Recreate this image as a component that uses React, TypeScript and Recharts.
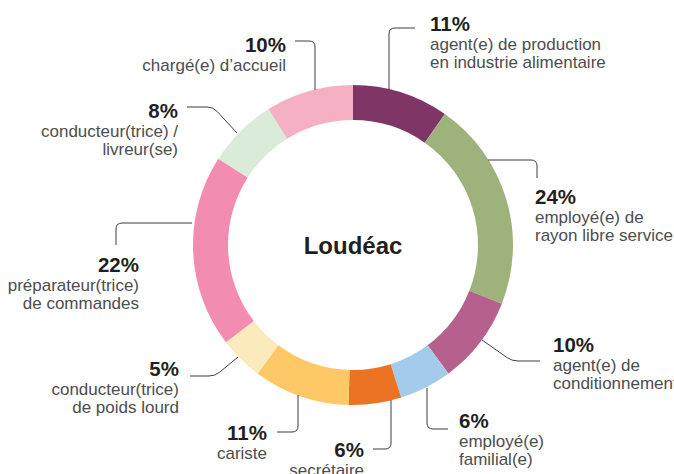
import React from "react";
import { PieChart, Pie, Cell } from "recharts";

// ---- data ----
const categories: string[][] = [
  ["agent(e) de production", "en industrie alimentaire"],
  ["employé(e) de", "rayon libre service"],
  ["agent(e) de", "conditionnement"],
  ["employé(e)", "familial(e)"],
  ["secrétaire"],
  ["cariste"],
  ["conducteur(trice)", "de poids lourd"],
  ["préparateur(trice)", "de commandes"],
  ["conducteur(trice) /", "livreur(se)"],
  ["chargé(e) d’accueil"],
];
const values = [11, 24, 10, 6, 6, 11, 5, 22, 8, 10];
const percentLabels = ["11%", "24%", "10%", "6%", "6%", "11%", "5%", "22%", "8%", "10%"];
const centerTitle = "Loudéac";

// ---- style / layout ----
const colors = [
  "#7F3667",
  "#9EB27C",
  "#B5608D",
  "#A5CBEA",
  "#EC7224",
  "#FFC866",
  "#FAEABC",
  "#F28CB0",
  "#DAEBD9",
  "#F5B0C4",
];

const CX = 353;
const CY = 245;
const FONT = '"Liberation Sans", Arial, Helvetica, sans-serif';

type P = [number, number];
// leader points & text positions, relative to the pie centre
const rel = (x: number, y: number): P => [x - CX, y - CY];
const layout: { pts: P[]; tx: number; ty: number; anchor: "start" | "end" }[] = [
  { pts: [rel(389, 90), rel(389, 28), rel(415, 28)], tx: 430 - CX, ty: 31 - CY, anchor: "start" },
  { pts: [rel(488, 160), rel(537, 160), rel(537, 178)], tx: 535 - CX, ty: 204 - CY, anchor: "start" },
  { pts: [rel(482, 340), rel(512, 361), rel(540, 361)], tx: 553 - CX, ty: 352 - CY, anchor: "start" },
  { pts: [rel(427, 388), rel(427, 429), rel(448, 429)], tx: 459 - CX, ty: 428 - CY, anchor: "start" },
  { pts: [rel(391, 400), rel(391, 449), rel(373, 449)], tx: 364 - CX, ty: 457 - CY, anchor: "end" },
  { pts: [rel(298, 395), rel(298, 432), rel(277, 432)], tx: 267 - CX, ty: 440 - CY, anchor: "end" },
  { pts: [rel(238, 357), rel(215, 376), rel(190, 376)], tx: 179 - CX, ty: 376 - CY, anchor: "end" },
  { pts: [rel(192, 223), rel(116, 223), rel(116, 245)], tx: 139 - CX, ty: 272 - CY, anchor: "end" },
  { pts: [rel(237, 133), rel(213, 107), rel(187, 107)], tx: 178 - CX, ty: 118 - CY, anchor: "end" },
  { pts: [rel(315, 90), rel(315, 41), rel(295, 41)], tx: 286 - CX, ty: 52 - CY, anchor: "end" },
];

const data = values.map((v, i) => ({ name: categories[i].join(" "), value: v }));

function roundedPath(pts: P[], cx: number, cy: number, r = 6): string {
  const abs = pts.map(([x, y]) => [x + cx, y + cy]);
  let d = `M${abs[0][0]},${abs[0][1]}`;
  for (let i = 1; i < abs.length - 1; i++) {
    const [px, py] = abs[i - 1];
    const [x, y] = abs[i];
    const [nx, ny] = abs[i + 1];
    const l1 = Math.hypot(x - px, y - py);
    const l2 = Math.hypot(nx - x, ny - y);
    const rr = Math.min(r, l1 / 2, l2 / 2);
    const ax = x - ((x - px) / l1) * rr;
    const ay = y - ((y - py) / l1) * rr;
    const bx = x + ((nx - x) / l2) * rr;
    const by = y + ((ny - y) / l2) * rr;
    d += ` L${ax},${ay} Q${x},${y} ${bx},${by}`;
  }
  const last = abs[abs.length - 1];
  d += ` L${last[0]},${last[1]}`;
  return d;
}

const renderLabel = (props: any) => {
  const { cx, cy, index } = props;
  const lay = layout[index];
  if (!lay) return null;
  const x = cx + lay.tx;
  const y = cy + lay.ty;
  return (
    <g key={`lbl-${index}`}>
      <path d={roundedPath(lay.pts, cx, cy)} fill="none" stroke="#3d3d3d" strokeWidth={1} />
      <text
        x={x}
        y={y}
        textAnchor={lay.anchor}
        fontFamily={FONT}
        fontWeight="bold"
        fontSize={20.5}
        fill="#231F20"
      >
        {percentLabels[index]}
      </text>
      {categories[index].map((line, k) => (
        <text
          key={k}
          x={x}
          y={y + 18.5 + k * 18}
          textAnchor={lay.anchor}
          fontFamily={FONT}
          fontSize={17}
          fill="#4d4d4d"
        >
          {line}
        </text>
      ))}
      {index === 0 && (
        <text
          x={cx}
          y={cy + 8.5}
          textAnchor="middle"
          fontFamily={FONT}
          fontWeight="bold"
          fontSize={24}
          fill="#231F20"
        >
          {centerTitle}
        </text>
      )}
    </g>
  );
};

export default function App() {
  return (
    <div style={{ position: "absolute", left: 0, top: 0, width: 674, height: 474, background: "#fff" }}>
      <PieChart width={674} height={474} margin={{ top: 0, right: 0, bottom: 0, left: 0 }}>
        <Pie
          data={data}
          dataKey="value"
          cx={CX}
          cy={CY}
          innerRadius={125}
          outerRadius={160}
          startAngle={90}
          endAngle={-270}
          stroke="none"
          label={renderLabel}
          labelLine={false}
          isAnimationActive={false}
        >
          {data.map((_, i) => (
            <Cell key={i} fill={colors[i]} />
          ))}
        </Pie>
      </PieChart>
    </div>
  );
}
